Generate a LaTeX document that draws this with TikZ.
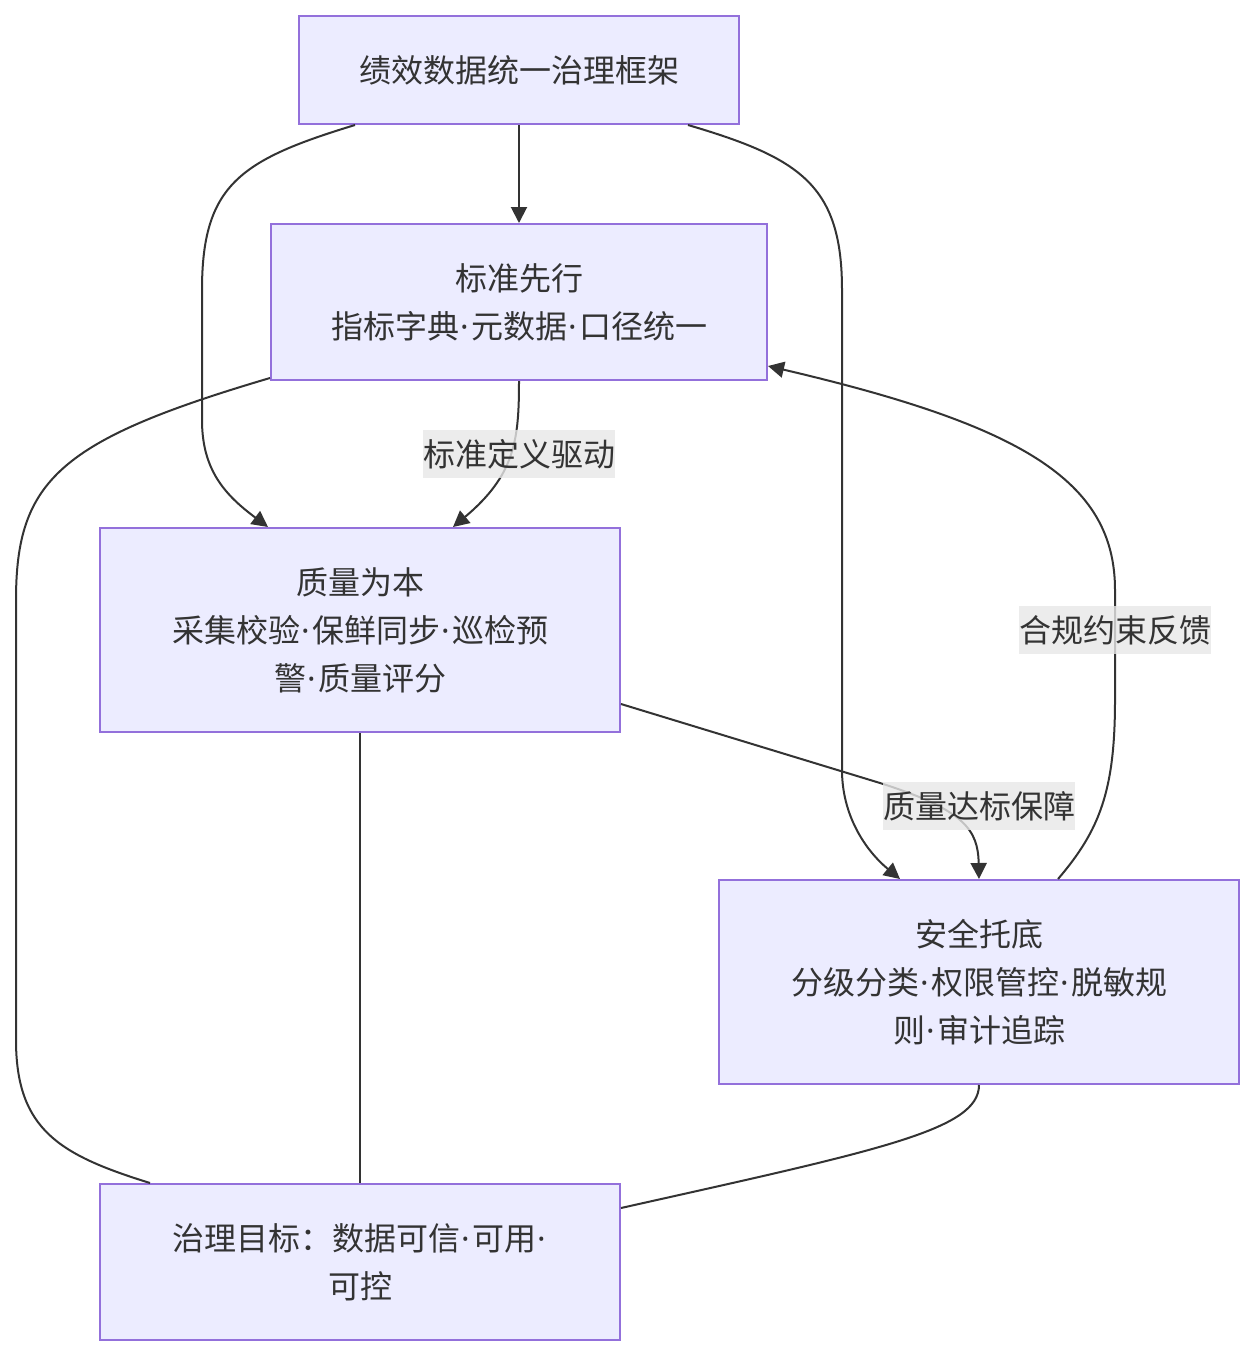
\documentclass[tikz,border=0pt]{standalone}
\usepackage{fontspec}
\setmainfont{Noto Sans CJK SC}
\newfontfamily\latinf{Noto Sans}
\newcommand{\mdot}{\makebox[9pt]{\latinf ·}}
\usetikzlibrary{arrows.meta,calc}
\definecolor{nodefill}{HTML}{ECECFF}
\definecolor{nodeline}{HTML}{9370DB}
\definecolor{edgeline}{HTML}{333333}
\definecolor{labelbg}{HTML}{E8E8E8}
\definecolor{txt}{HTML}{333333}
\begin{document}
\begin{tikzpicture}[x=0.75pt,y=-0.75pt,
  box/.style={draw=nodeline, fill=nodefill, line width=1.5pt, text=txt, align=center,
    inner sep=0pt, font=\fontsize{24pt}{36pt}\selectfont},
  conn/.style={draw=edgeline, line width=1.5pt},
  arr/.style={conn, -{Triangle[length=12pt,width=12pt]}},
  elabel/.style={fill=labelbg, fill opacity=0.8, text opacity=1, text=txt, inner xsep=0pt,
    inner ysep=0pt, minimum height=36pt, font=\fontsize{24pt}{36pt}\selectfont}]
\path[use as bounding box, fill=white] (0,0) rectangle (1254,1356);

\node[box, minimum width=330pt, minimum height=81pt] (A) at (519,70) {绩效数据统一治理框架};
\node[box, minimum width=372pt, minimum height=117pt] (B) at (519,302) {标准先行\\指标字典\mdot 元数据\mdot 口径统一};
\node[box, minimum width=390pt, minimum height=153pt] (C) at (360,630) {质量为本\\采集校验\mdot 保鲜同步\mdot 巡检预\\警\mdot 质量评分};
\node[box, minimum width=390pt, minimum height=153pt] (D) at (979,982) {安全托底\\分级分类\mdot 权限管控\mdot 脱敏规\\则\mdot 审计追踪};
\node[box, minimum width=390pt, minimum height=117pt] (E) at (360,1262) {治理目标：数据可信\mdot 可用\mdot\\可控};

% A -> B
\draw[arr] (A.south) -- (B.north);
% A -> C
\draw[arr] ($(A.south)+(-164,0)$) .. controls (240,160) and (202,185) .. (202,290)
  -- (202,420) .. controls (202,470) and (225,495) .. ($(C.north)+(-92,0)$);
% A -> D
\draw[arr] ($(A.south)+(169,0)$) .. controls (800,158) and (842,185) .. (842,290)
  -- (842,770) .. controls (842,815) and (865,850) .. ($(D.north)+(-79,0)$);
% B -> C
\draw[arr] (B.south) .. controls (519,440) and (515,475) .. ($(C.north)+(93,0)$);
% C -> D
\draw[arr] ($(C.east)+(0,74)$) -- (880,783) .. controls (965,810) and (978,830) .. (D.north);
% D -> B
\draw[arr] ($(D.north)+(79,0)$) .. controls (1100,830) and (1115,790) .. (1115,700)
  -- (1115,590) .. controls (1115,480) and (1020,425) .. ($(B.east)+(0,64)$);
% B -- E
\draw[conn] ($(B.west)+(0,76)$) .. controls (60,440) and (16,480) .. (16,600)
  -- (16,1040) .. controls (16,1130) and (60,1155) .. ($(E.north)+(-210,0)$);
% C -- E
\draw[conn] (C.south) -- (E.north);
% D -- E
\draw[conn] (D.south) .. controls (979,1130) and (880,1150) .. ($(E.east)+(0,-54)$);

\node[elabel] (L1) at (519,454) {标准定义驱动};
\node[elabel] (L2) at (979,806) {质量达标保障};
\node[elabel] (L3) at (1115,630) {合规约束反馈};
\end{tikzpicture}
\end{document}
